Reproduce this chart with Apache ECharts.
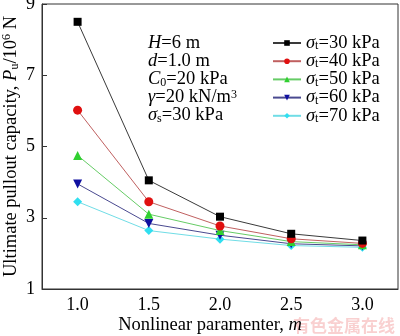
<!DOCTYPE html>
<html>
<head>
<meta charset="utf-8">
<script src="https://cdn.jsdelivr.net/npm/echarts@6/dist/echarts.min.js"></script>
<style>
  html, body { margin: 0; padding: 0; background: #fff; }
  #chart { width: 400px; height: 336px; }
</style>
</head>
<body>
<div id="chart"></div>
<script>
// Nonlinear parameter m (x categories)
const mValues = ['1.0', '1.5', '2.0', '2.5', '3.0'];
// Ultimate pullout capacity Pu (10^6 N) for each tensile strength
const sigma30 = [8.50, 4.05, 3.03, 2.55, 2.36];
const sigma40 = [6.02, 3.45, 2.77, 2.41, 2.28];
const sigma50 = [4.75, 3.10, 2.64, 2.33, 2.24];
const sigma60 = [3.95, 2.84, 2.51, 2.27, 2.21];
const sigma70 = [3.45, 2.64, 2.40, 2.22, 2.17];
const seriesNames = ['30', '40', '50', '60', '70'];
const yTicks = [1, 3, 5, 7, 9];

const serif = '"Liberation Serif", "DejaVu Serif", serif';
const fs = 18.5;

const styles = [
  { symbol: 'rect', rotate: 0, mark: '#000000', line: '#3a3a3a' },
  { symbol: 'circle', rotate: 0, mark: '#e01010', line: '#c06060' },
  { symbol: 'triangle', rotate: 0, mark: '#30d030', line: '#66cc66' },
  { symbol: 'triangle', rotate: 180, mark: '#1010a0', line: '#4a4a90' },
  { symbol: 'diamond', rotate: 0, mark: '#30dff0', line: '#70dde6' }
];
const dataSets = [sigma30, sigma40, sigma50, sigma60, sigma70];

// rich-text styles for italic symbols, subscripts and superscripts
function richSet(lh) {
  return {
    i: { fontFamily: serif, fontSize: fs, fontStyle: 'italic', color: '#000', lineHeight: lh },
    n: { fontFamily: serif, fontSize: fs, color: '#000', lineHeight: lh },
    sub: { fontFamily: serif, fontSize: 12, color: '#000', verticalAlign: 'bottom', padding: [8, 0, 0, 0], lineHeight: lh },
    sup: { fontFamily: serif, fontSize: 12, color: '#000', verticalAlign: 'top', padding: [0, 0, 8, 0], lineHeight: lh }
  };
}

const chart = echarts.init(document.getElementById('chart'), null, { renderer: 'canvas' });

chart.setOption({
  animation: false,
  backgroundColor: '#fff',
  grid: {
    left: 42, right: 2, top: 4, bottom: 47,
    outerBoundsMode: 'none',
    containLabel: false,
    show: true, borderColor: '#333', borderWidth: 1, backgroundColor: 'transparent'
  },
  legend: {
    orient: 'vertical',
    left: 272, top: 32,
    itemWidth: 28, itemHeight: 7, itemGap: -2.3,
    padding: 0,
    data: seriesNames.map(s => 'st' + s),
    formatter: name => '{i|σ}{sub|t}{n|=' + name.slice(2) + ' kPa}',
    textStyle: { fontFamily: serif, fontSize: fs, color: '#000', lineHeight: 18, rich: richSet(18) }
  },
  xAxis: {
    type: 'category',
    data: mValues,
    boundaryGap: true,
    axisLine: { lineStyle: { color: '#333', width: 1 } },
    axisTick: { inside: true, length: 5, alignWithLabel: true, lineStyle: { color: '#333' } },
    axisLabel: { fontFamily: serif, fontSize: 18, color: '#000', margin: 7 },
    splitLine: { show: false },
    name: '{n|Nonlinear paramenter, }{i|m}',
    nameLocation: 'middle',
    nameGap: 26,
    nameMoveOverlap: false,
    nameTextStyle: { fontFamily: serif, fontSize: fs, color: '#000', padding: [0, 20, 0, 0], rich: richSet(20) }
  },
  yAxis: {
    type: 'value',
    min: 1, max: 9,
    axisLine: { show: true, lineStyle: { color: '#333', width: 1 } },
    axisTick: { show: true, inside: true, length: 5, customValues: yTicks, lineStyle: { color: '#333' } },
    axisLabel: { fontFamily: serif, fontSize: 18, color: '#000', margin: 7, customValues: yTicks },
    splitLine: { show: false },
    name: '{n|Ultimate pullout capacity, }{i|P}{sub|u}{n|/10}{sup|6}{n| N}',
    nameLocation: 'middle',
    nameGap: 21,
    nameMoveOverlap: false,
    nameTextStyle: { fontFamily: serif, fontSize: fs, color: '#000', rich: richSet(20) }
  },
  series: dataSets.map((d, k) => ({
    name: 'st' + seriesNames[k],
    type: 'line',
    data: d,
    symbol: styles[k].symbol,
    symbolRotate: styles[k].rotate,
    symbolSize: styles[k].symbol === 'rect' ? 8 : 9,
    itemStyle: { color: styles[k].mark },
    lineStyle: { color: styles[k].line, width: 1 },
    z: 10 - k
  })),
  graphic: [
    {
      type: 'text',
      left: 148, top: 34,
      style: {
        text: [
          '{i|H}{n|=6 m}',
          '{i|d}{n|=1.0 m}',
          '{i|C}{sub|0}{n|=20 kPa}',
          '{i|γ}{n|=20 kN/m}{sup|3}',
          '{i|σ}{sub|s}{n|=30 kPa}'
        ].join('\n'),
        rich: richSet(18),
        fill: '#000'
      }
    },
    {
      type: 'text',
      right: 5, bottom: 2,
      style: {
        text: '有色金属在线',
        font: 'bold 17px "Noto Sans CJK SC"',
        fill: 'rgba(235, 110, 110, 0.32)'
      }
    }
  ]
});
</script>
</body>
</html>
